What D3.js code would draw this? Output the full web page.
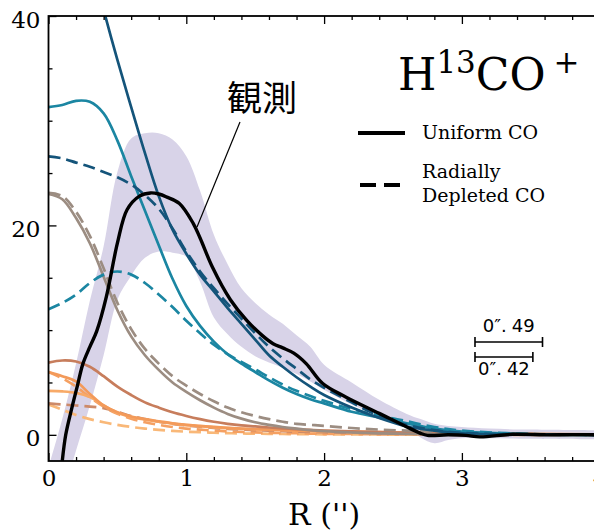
<!DOCTYPE html>
<html><head><meta charset="utf-8">
<script src="https://cdn.jsdelivr.net/npm/d3@7"></script>
<style>body{margin:0;background:#fff}svg{display:block}</style>
</head><body>
<svg id="c" width="594" height="532"></svg>
<script>
// ---- data ----
const xTicks = [0, 1, 2, 3, 4];
const xMinor = [0.2,0.4,0.6,0.8,1.2,1.4,1.6,1.8,2.2,2.4,2.6,2.8,3.2,3.4,3.6,3.8];
const yTicks = [0, 20, 40];
const yMinor = [5, 10, 15, 25, 30, 35];

const modelX = [0,0.1,0.2,0.3,0.4,0.5,0.6,0.7,0.8,0.9,1.0,1.1,1.2,1.3,1.4,1.5,1.6,1.7,1.8,1.9,2.0,2.2,2.4,2.6,2.8,3.0,3.5,4.0];
const navyUniform   = [62,57,51.5,45.8,40.6,35.8,31.3,26.9,22.8,19.6,17.3,15.3,13.7,12.1,10.6,9.1,7.6,6.5,5.5,4.6,3.8,2.6,1.6,0.8,0.4,0.15,0.03,0];
const navyDepleted  = [26.6,26.4,26.0,25.6,25.1,24.6,23.9,22.9,21.6,19.7,17.5,15.6,14.0,12.5,11.1,9.7,8.4,7.3,6.3,5.3,4.5,3.1,1.8,0.95,0.45,0.18,0.04,0];
const tealUniform   = [31.3,31.5,31.9,31.8,30.7,28.1,24.7,21.4,18.1,14.9,12.3,10.4,8.9,7.7,6.8,6.0,5.2,4.5,3.9,3.4,3.0,2.2,1.65,1.1,0.6,0.3,0.05,0];
const tealDepleted  = [12.0,12.6,13.4,14.5,15.3,15.6,15.3,14.5,13.4,12.2,10.9,9.7,8.6,7.7,6.95,6.25,5.5,4.8,4.2,3.7,3.25,2.45,1.85,1.3,0.75,0.4,0.08,0];
const grayUniform   = [23.0,22.5,20.7,18.3,15.1,11.9,9.4,7.6,6.2,5.0,4.1,3.3,2.6,2.0,1.55,1.2,0.95,0.75,0.6,0.45,0.35,0.22,0.14,0.09,0.06,0.04,0.01,0];
const grayDepleted  = [23.1,22.8,21.3,19.0,15.9,12.6,10.1,8.2,6.8,5.6,4.7,3.9,3.2,2.6,2.15,1.8,1.5,1.25,1.05,0.95,0.85,0.65,0.5,0.4,0.3,0.2,0.05,0];
const brownUniform  = [6.9,7.1,7.0,6.5,5.6,4.6,3.8,3.1,2.6,2.15,1.8,1.5,1.25,1.05,0.9,0.8,0.7,0.62,0.55,0.47,0.4,0.32,0.25,0.2,0.15,0.11,0.06,0.03];
const brownDepleted = [3.0,2.9,2.8,2.7,2.55,2.2,1.8,1.5,1.25,1.05,0.9,0.78,0.66,0.57,0.5,0.44,0.4,0.35,0.3,0.27,0.25,0.2,0.15,0.12,0.1,0.07,0.03,0];
const orangeUniform = [6.0,5.6,5.1,3.9,2.8,2.15,1.75,1.5,1.3,1.1,0.95,0.85,0.75,0.67,0.6,0.55,0.5,0.46,0.42,0.39,0.36,0.31,0.26,0.22,0.18,0.14,0.08,0.04];
const lightUniform  = [4.2,4.15,4.0,3.6,2.8,2.1,1.7,1.45,1.25,1.07,0.92,0.82,0.72,0.64,0.58,0.52,0.48,0.44,0.4,0.37,0.34,0.29,0.24,0.2,0.16,0.12,0.07,0.03];
const orangeDepleted= [6.0,5.4,4.6,3.6,2.7,2.0,1.55,1.2,0.95,0.75,0.6,0.5,0.4,0.33,0.28,0.24,0.2,0.17,0.15,0.12,0.1,0.08,0.05,0.04,0.03,0.02,0.01,0];
const lightDepleted = [2.9,2.4,1.9,1.5,1.2,0.95,0.75,0.6,0.48,0.38,0.3,0.25,0.2,0.16,0.13,0.11,0.1,0.08,0.07,0.06,0.05,0.04,0.03,0.02,0.02,0.01,0,0];

const obsX = [0.10,0.125,0.17,0.21,0.25,0.30,0.35,0.42,0.5,0.57,0.66,0.74,0.80,0.86,0.95,1.05,1.10,1.19,1.32,1.44,1.55,1.63,1.70,1.78,1.87,1.99,2.16,2.40,2.6,2.7,2.75,2.9,3.03,3.13,3.37,3.6,3.8,4.0];
const obsY = [-2.5,0,2.6,4.7,6.8,8.4,9.9,13.2,18.3,21.5,22.8,23.1,23.0,22.7,22.1,20.2,18.8,16.0,12.9,10.9,9.5,8.7,8.3,7.8,6.8,4.9,3.6,2.05,0.75,0.14,-0.05,0.0,-0.05,-0.2,0.05,0.0,0.02,0.0];

const bandX  = [0,0.1,0.2,0.3,0.4,0.5,0.6,0.7,0.8,0.9,1.0,1.1,1.2,1.3,1.4,1.5,1.6,1.7,1.8,1.9,2.0,2.2,2.4,2.6,2.7,2.8,2.9,3.0,3.2,3.5,4.0];
const bandHi = [-3.1,1.5,6.8,12.8,18.0,25.1,28.3,28.8,28.8,28.2,26.6,23.3,19.1,16.3,14.0,12.6,11.5,10.6,9.5,8.4,6.7,5.0,3.35,2.0,1.5,1.05,0.85,0.75,0.6,0.5,0.43];
const bandLo = [-10,-5.9,-1.5,2.8,7.6,12.9,15.2,16.9,17.5,17.4,17.0,14.6,11.2,9.6,8.4,7.5,6.9,6.4,5.8,5.1,4.3,2.9,1.8,0.73,-0.25,-0.8,-0.5,-0.33,-0.33,-0.38,-0.43];

const scaleStart = 3.095;
const scaleBars = [0.49, 0.42];
const scaleLabels = ["0″.", "0″."];
const scaleDigits = ["49", "42"];

// ---- styles ----
const series = [
  {v: lightDepleted,  c: "#f9b878", d: true},
  {v: orangeDepleted, c: "#f5a062", d: true},
  {v: brownDepleted,  c: "#cd8a68", d: true},
  {v: lightUniform,   c: "#f8aa68", d: false},
  {v: orangeUniform,  c: "#f39a5a", d: false},
  {v: brownUniform,   c: "#c77d5c", d: false},
  {v: grayDepleted,   c: "#9c8d82", d: true},
  {v: grayUniform,    c: "#9c8d82", d: false},
  {v: tealDepleted,   c: "#1b86a2", d: true},
  {v: tealUniform,    c: "#1b86a2", d: false},
  {v: navyDepleted,   c: "#14547a", d: true},
  {v: navyUniform,    c: "#14547a", d: false}
];

const svg = d3.select("#c");
const L = 48.5, R = 599.7, T = 16, B = 461;
const x = d3.scaleLinear().domain([0, 4]).range([L, R]);
const y = d3.scaleLinear().domain([-2.5, 40]).range([B, T]);

svg.append("defs").append("clipPath").attr("id", "clip")
  .append("rect").attr("x", L).attr("y", T).attr("width", R - L).attr("height", B - T);
const g = svg.append("g").attr("clip-path", "url(#clip)");

// band
const bandData = bandX.map((v, i) => ({x: v, lo: bandLo[i], hi: bandHi[i]}));
g.append("path").datum(bandData)
  .attr("d", d3.area().x(d => x(d.x)).y0(d => y(d.lo)).y1(d => y(d.hi)).curve(d3.curveCatmullRom.alpha(0.5)))
  .attr("fill", "#d8d3e8");

// model lines
const line = d3.line().x(d => x(d[0])).y(d => y(d[1])).curve(d3.curveCatmullRom.alpha(0.5));
series.forEach(s => {
  g.append("path").datum(modelX.map((v, i) => [v, s.v[i]]))
    .attr("d", line).attr("fill", "none").attr("stroke", s.c)
    .attr("stroke-width", 2.7)
    .attr("stroke-dasharray", s.d ? "12,6" : null);
});

// observation
g.append("path").datum(obsX.map((v, i) => [v, obsY[i]]))
  .attr("d", line).attr("fill", "none").attr("stroke", "#000").attr("stroke-width", 3.4);

// axes
const serif = "DejaVu Serif";
function styleAxis(sel) {
  sel.select(".domain").remove();
  sel.selectAll("line").attr("stroke", "#000").attr("stroke-width", 1.3);
  sel.selectAll("text").attr("font-family", serif).attr("font-size", 23).attr("fill", "#000");
}
svg.append("g").attr("transform", `translate(0,${B})`)
  .call(d3.axisBottom(x).tickValues(xTicks).tickSize(-8).tickPadding(9).tickFormat(d3.format("d")))
  .call(styleAxis);
svg.append("g").attr("transform", `translate(0,${B})`)
  .call(d3.axisBottom(x).tickValues(xMinor).tickSize(-4).tickFormat(""))
  .call(styleAxis);
svg.append("g").attr("transform", `translate(0,${T})`)
  .call(d3.axisTop(x).tickValues(xTicks).tickSize(-8).tickFormat(""))
  .call(styleAxis);
svg.append("g").attr("transform", `translate(0,${T})`)
  .call(d3.axisTop(x).tickValues(xMinor).tickSize(-4).tickFormat(""))
  .call(styleAxis);
const yax = svg.append("g").attr("transform", `translate(${L},0)`)
  .call(d3.axisLeft(y).tickValues(yTicks).tickSize(-8).tickPadding(8).tickFormat(d3.format("d")))
  .call(styleAxis);
yax.selectAll("text").attr("dy", "0.48em");
svg.append("g").attr("transform", `translate(${L},0)`)
  .call(d3.axisLeft(y).tickValues(yMinor).tickSize(-4).tickFormat(""))
  .call(styleAxis);

// spines
svg.append("rect").attr("x", L).attr("y", T).attr("width", R - L).attr("height", B - T)
  .attr("fill", "none").attr("stroke", "#000").attr("stroke-width", 1.8);

// x label
svg.append("text").attr("x", (L + R) / 2).attr("y", 525).attr("text-anchor", "middle")
  .attr("font-family", serif).attr("font-size", 30).text("R ('')");

// title
const t = svg.append("text").attr("x", 398).attr("y", 90).attr("font-family", serif).attr("font-size", 44);
t.append("tspan").text("H");
t.append("tspan").attr("font-size", 31).attr("dy", -17).text("13");
t.append("tspan").attr("dy", 17).text("CO");
t.append("tspan").attr("font-size", 31).attr("dy", -17).attr("dx", 8).text("+");

// legend
svg.append("line").attr("x1", 358).attr("x2", 405).attr("y1", 133).attr("y2", 133)
  .attr("stroke", "#000").attr("stroke-width", 4);
svg.append("line").attr("x1", 360).attr("x2", 403).attr("y1", 185).attr("y2", 185)
  .attr("stroke", "#000").attr("stroke-width", 4).attr("stroke-dasharray", "16,8");
const legT = [["Uniform CO", 139], ["Radially", 178], ["Depleted CO", 202]];
legT.forEach(([s, yy]) => svg.append("text").attr("x", 422).attr("y", yy)
  .attr("font-family", serif).attr("font-size", 19).text(s));

// annotation
svg.append("text").attr("x", 262).attr("y", 111).attr("text-anchor", "middle")
  .attr("font-family", "Noto Sans CJK JP").attr("font-size", 35).text("観測");
svg.append("line").attr("x1", 240).attr("y1", 122).attr("x2", 197).attr("y2", 227)
  .attr("stroke", "#000").attr("stroke-width", 1.2);

// scale bars
const barY = [342, 357];
const labY = [332, 375];
scaleBars.forEach((w, i) => {
  const x0 = x(scaleStart), x1 = x(scaleStart + w);
  const gb = svg.append("g").attr("stroke", "#000").attr("stroke-width", 1.6);
  gb.append("line").attr("x1", x0).attr("x2", x1).attr("y1", barY[i]).attr("y2", barY[i]);
  gb.append("line").attr("x1", x0).attr("x2", x0).attr("y1", barY[i] - 5).attr("y2", barY[i] + 5);
  gb.append("line").attr("x1", x1).attr("x2", x1).attr("y1", barY[i] - 5).attr("y2", barY[i] + 5);
  const tx = svg.append("text").attr("x", (x0 + x1) / 2).attr("y", labY[i]).attr("text-anchor", "middle")
    .attr("font-family", "DejaVu Sans").attr("font-size", 18);
  tx.append("tspan").text(scaleLabels[i]);
  tx.append("tspan").attr("dx", 5).text(scaleDigits[i]);
});
</script>
</body></html>
